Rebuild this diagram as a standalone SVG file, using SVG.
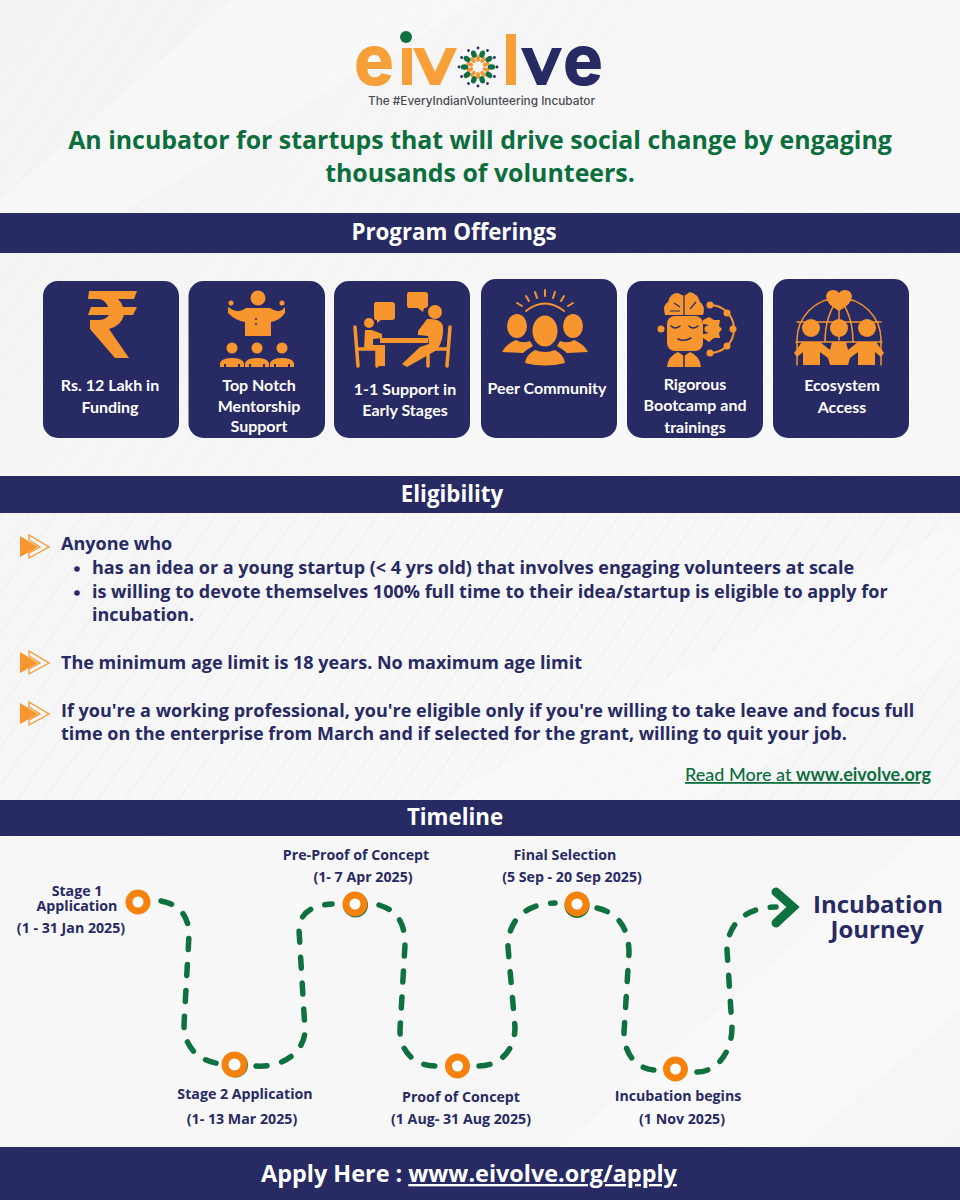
<svg xmlns="http://www.w3.org/2000/svg" xmlns:xlink="http://www.w3.org/1999/xlink" width="960" height="1200" viewBox="0 0 960 1200">
<defs>
<style>
.bar{fill:#272a63}
.hd{font:700 22.300px "Open Sans",sans-serif;fill:#fff;text-anchor:middle}
.card{fill:#272a63}
.ct{font:700 16px Lato,sans-serif;fill:#fff;text-anchor:middle}
.ic{fill:#f7962e}
.il{fill:none;stroke:#f7962e;stroke-linecap:round;stroke-linejoin:round}
.nv{fill:none;stroke:#272a63;stroke-linecap:round}
.b{font:700 18px "Open Sans",sans-serif;fill:#272a63}
.t{font:700 14.200px "Open Sans",sans-serif;fill:#272a63;text-anchor:middle}
.dash{fill:none;stroke:#0f7040;stroke-width:5.500;stroke-linecap:round;stroke-dasharray:11 15}
.ring{fill:#fff;stroke:#f5820d;stroke-width:7}
.logo{font-family:Inter,sans-serif;font-weight:800;font-size:70px}
</style>
<linearGradient id="bg" x1="0" y1="0" x2="1" y2="1"><stop offset="0" stop-color="#f3f3f4"/><stop offset="0.5" stop-color="#f8f8f9"/><stop offset="1" stop-color="#f5f5f6"/></linearGradient>
<pattern id="hatch" width="22" height="22" patternUnits="userSpaceOnUse" patternTransform="rotate(-55)"><path d="M0 11H22" stroke="#e9e9ec" stroke-width="1"/></pattern>
<g id="arrow"><path class="ic" d="M20-11L38 0 20 10Z"/><path d="M29-12L49 0 29 11V6L40 0 29-7Z" fill="none" stroke="#f7962e" stroke-width="1.300"/></g>
<ellipse id="leaf" cx="0" cy="-13.500" rx="2.700" ry="3.800" fill="#0f7040"/>
<ellipse id="pet" cx="0" cy="-8.500" rx="2" ry="3.400" fill="#f7962e"/>
<circle id="dot" cx="0" cy="-19" r="1.400" fill="#272a63"/>
</defs>

<g id="background">
<rect width="960" height="1200" fill="url(#bg)"/>
<rect y="253" width="960" height="223" fill="url(#hatch)" opacity=".45"/>
<rect y="513" width="960" height="287" fill="url(#hatch)" opacity=".7"/>
<rect y="0" width="960" height="213" fill="url(#hatch)" opacity=".3"/>
<path d="M0 200L230 0H480L120 213H0Z" fill="#fff" opacity=".3"/>
<path d="M560 1147L960 800V1010L800 1147Z" fill="#fff" opacity=".35"/>
<path d="M440 800L960 520V660L700 800Z" fill="#fff" opacity=".3"/>
</g>

<g id="logo">
<circle cx="406" cy="37" r="6" fill="#0f7040"/>
<text class="logo" x="354" y="85" fill="#f7a03a" textLength="40" lengthAdjust="spacingAndGlyphs">e</text>
<rect x="402" y="48" width="10" height="37" fill="#f7a03a"/>
<path d="M413 48H424L435 72 446 48H457L440 85H430Z" fill="#f7a03a"/>
<g transform="translate(478 67)">
<use xlink:href="#pet"/><use xlink:href="#pet" transform="rotate(36)"/><use xlink:href="#pet" transform="rotate(72)"/><use xlink:href="#pet" transform="rotate(108)"/><use xlink:href="#pet" transform="rotate(144)"/><use xlink:href="#pet" transform="rotate(180)"/><use xlink:href="#pet" transform="rotate(216)"/><use xlink:href="#pet" transform="rotate(252)"/><use xlink:href="#pet" transform="rotate(288)"/><use xlink:href="#pet" transform="rotate(324)"/>
<use xlink:href="#leaf" transform="rotate(18)"/><use xlink:href="#leaf" transform="rotate(54)"/><use xlink:href="#leaf" transform="rotate(90)"/><use xlink:href="#leaf" transform="rotate(126)"/><use xlink:href="#leaf" transform="rotate(162)"/><use xlink:href="#leaf" transform="rotate(198)"/><use xlink:href="#leaf" transform="rotate(234)"/><use xlink:href="#leaf" transform="rotate(270)"/><use xlink:href="#leaf" transform="rotate(306)"/><use xlink:href="#leaf" transform="rotate(342)"/>
<use xlink:href="#dot"/><use xlink:href="#dot" transform="rotate(30)"/><use xlink:href="#dot" transform="rotate(60)"/><use xlink:href="#dot" transform="rotate(90)"/><use xlink:href="#dot" transform="rotate(120)"/><use xlink:href="#dot" transform="rotate(150)"/><use xlink:href="#dot" transform="rotate(180)"/><use xlink:href="#dot" transform="rotate(210)"/><use xlink:href="#dot" transform="rotate(240)"/><use xlink:href="#dot" transform="rotate(270)"/><use xlink:href="#dot" transform="rotate(300)"/><use xlink:href="#dot" transform="rotate(330)"/>
</g>
<rect x="506" y="34" width="10" height="51" fill="#f7a03a"/>
<path d="M521 48H532L542 72 552 48H562L546 85H537Z" fill="#272a63"/>
<text class="logo" x="563" y="85" fill="#272a63" textLength="40" lengthAdjust="spacingAndGlyphs">e</text>
<text x="368" y="105" font-family="Inter,sans-serif" font-weight="500" font-size="11.500" fill="#4a4a52" textLength="227" lengthAdjust="spacingAndGlyphs">The #EveryIndianVolunteering Incubator</text>
</g>

<g id="headline" font-family="'Open Sans',sans-serif" font-weight="700" font-size="24.900" fill="#0b6e3c" text-anchor="middle">
<text x="480" y="149">An incubator for startups that will drive social change by engaging</text>
<text x="480" y="182">thousands of volunteers.</text>
</g>

<g id="bar-offerings"><rect class="bar" y="213" width="960" height="40"/><text class="hd" x="454" y="240">Program Offerings</text></g>

<g id="card-funding">
<rect class="card" x="43" y="281" width="136" height="157" rx="15"/>
<path class="ic" d="M89 291H137L134 299H118Q122 303 123 307H137L133 315H124Q121 326 109 329L129 358H115L90 329V320H98Q106 320 109 315H88L91 307H108Q105 299 98 299H88Z"/>
<text class="ct" x="110" y="391">Rs. 12 Lakh in</text><text class="ct" x="110" y="413">Funding</text>
</g>

<g id="card-mentorship">
<rect class="card" x="188.500" y="281" width="136.500" height="157" rx="15"/>
<circle class="ic" cx="258" cy="298" r="7.500"/><circle class="ic" cx="231" cy="303" r="2.500"/><circle class="ic" cx="282" cy="303" r="2.500"/>
<path class="ic" d="M228 307L233 310Q240 313 246 308H270Q277 313 282 310L285 307 285 313Q279 321 271 322V336H245V322Q236 321 228 313Z"/>
<circle cx="256" cy="319" r="1" fill="#272a63"/><circle cx="256" cy="324" r="1" fill="#272a63"/>
<circle class="ic" cx="232" cy="348" r="5.500"/><circle class="ic" cx="257" cy="348" r="5.500"/><circle class="ic" cx="282" cy="348" r="5.500"/>
<path class="ic" d="M220 367V363Q222 358 232 358 242 358 244 363V367H240V364H238V367H226V364H224V367ZM245 367V363Q247 358 257 358 267 358 269 363V367H265V364H263V367H251V364H249V367ZM270 367V363Q272 358 282 358 292 358 294 363V367H290V364H288V367H276V364H274V367Z"/>
<text class="ct" x="259" y="391">Top Notch</text><text class="ct" x="259" y="412">Mentorship</text><text class="ct" x="259" y="432">Support</text>
</g>

<g id="card-support">
<rect class="card" x="334" y="281" width="136" height="157" rx="15"/>
<path class="il" stroke-width="3.500" d="M355 327L358 366M358 349H376M377 349V366M450 327L447 366M447 349H429M428 349V366"/>
<circle class="ic" cx="369" cy="323" r="5"/><circle class="ic" cx="435" cy="312" r="7"/>
<path class="ic" d="M365 330H372L382 334V338L373 339V345H385V366H378V350H364Z"/>
<rect class="ic" x="380" y="338" width="48" height="5"/>
<path class="ic" d="M427 319Q441 318 443 326 444 340 437 350L407 367 402 364 420 347 429 344 428 336 418 335 418 331Z"/>
<path class="ic" d="M376 302H392Q395 302 395 305V317Q395 320 392 320H381L377 323 377 320H376Q374 320 374 317V305Q374 302 376 302ZM409 292H425Q428 292 428 295V305Q428 308 425 308H424L423 312 418 308H409Q407 308 407 305V295Q407 292 409 292Z"/>
<text class="ct" x="405" y="395">1-1 Support in</text><text class="ct" x="405" y="416">Early Stages</text>
</g>

<g id="card-peer">
<rect class="card" x="481" y="279" width="136" height="159" rx="15"/>
<path class="il" stroke-width="2" d="M545 290V296M535 292L537 298M526 296L529 301M564 296L561 301M555 292L553 298M517 303L522 306M568 306L573 303M526 311Q545 296 564 311"/>
<ellipse class="ic" cx="517" cy="326" rx="10" ry="12"/><ellipse class="ic" cx="545" cy="331" rx="12.500" ry="15.500"/><ellipse class="ic" cx="573" cy="326" rx="10" ry="12"/>
<path class="ic" d="M502 352Q506 344 516 340 522 344 530 341L533 346Q526 350 523 353Z M588 352Q584 344 574 340 568 344 560 341L557 346Q564 350 567 353Z M525 363Q526 355 535 350 545 354 555 350 564 355 565 363 545 368 525 363Z"/>
<text class="ct" x="547" y="394">Peer Community</text>
</g>

<g id="card-bootcamp">
<rect class="card" x="627" y="281" width="136" height="157" rx="15"/>
<path class="ic" d="M665 315Q662 305 668 302 670 293 678 293L684 296 690 292Q698 294 700 302 706 306 703 315Z"/>
<path d="M684 296V315M674 303L680 307M696 302L690 309M670 311H680" stroke="#272a63" stroke-width="1.200" fill="none"/>
<rect class="ic" x="667" y="316" width="36" height="35" rx="8"/>
<circle class="ic" cx="661" cy="329" r="3.500"/><circle class="ic" cx="708" cy="329" r="3.500"/>
<path class="nv" stroke-width="1.500" d="M671 326Q675 330 680 326M689 326Q693 330 698 326M678 339Q684 342 691 338"/>
<path class="ic" d="M667 367Q668 356 678 352L684 356 690 352Q700 356 701 367Z"/>
<path d="M684 355V367" stroke="#272a63" stroke-width="1.500"/>
<path class="il" stroke-width="2" d="M710 305A24 24 0 0 1 710 353"/>
<path class="ic" d="M703 320L709 317 714 320 720 320 719 326 722 329 719 333 720 338 714 338 709 342 703 338V334Q710 334 710 329 710 324 703 324Z"/>
<circle class="ic" cx="710" cy="305" r="3.500"/><circle class="ic" cx="727" cy="313" r="3.500"/><circle class="ic" cx="733" cy="329" r="3.500"/><circle class="ic" cx="727" cy="346" r="3.500"/><circle class="ic" cx="710" cy="353" r="3.500"/>
<text class="ct" x="695" y="390">Rigorous</text><text class="ct" x="695" y="411">Bootcamp and</text><text class="ct" x="695" y="433">trainings</text>
</g>

<g id="card-ecosystem">
<rect class="card" x="773" y="279" width="136" height="159" rx="15"/>
<path class="il" stroke-width="1.500" d="M797 365V340A42 42 0 0 1 881 340V365M797 322H881M796 342H882M839 340V300M825 342Q825 315 839 298M853 342Q853 315 839 298"/>
<path class="ic" d="M839 311Q826 304 826 296 827 290 833 290 837 290 839 293 841 290 845 290 851 290 852 296 852 304 839 311Z"/>
<circle class="ic" cx="811" cy="328" r="9"/><circle class="ic" cx="839" cy="328" r="9"/><circle class="ic" cx="867" cy="328" r="9"/>
<path class="ic" d="M794 353L802 342H820L830 350 832 342H846L848 350 858 342H876L884 353 881 357 875 352V365H858V352L850 358 848 365H830L828 358 820 352V365H803V352L797 357Z"/>
<path d="M820 365V354L826 359V365ZM858 365V354L852 359V365Z" fill="#272a63"/>
<text class="ct" x="842" y="391">Ecosystem</text><text class="ct" x="842" y="413">Access</text>
</g>

<g id="bar-eligibility"><rect class="bar" y="476" width="960" height="37"/><text class="hd" x="452" y="502">Eligibility</text></g>

<g id="eligibility">
<use xlink:href="#arrow" y="547"/><use xlink:href="#arrow" y="663"/><use xlink:href="#arrow" y="714"/>
<text class="b" x="61" y="550">Anyone who</text>
<circle cx="77" cy="569" r="2.800" fill="#272a63"/><circle cx="77" cy="593" r="2.800" fill="#272a63"/>
<text class="b" x="92" y="574">has an idea or a young startup (&lt; 4 yrs old) that involves engaging volunteers at scale</text>
<text class="b" x="92" y="598">is willing to devote themselves 100% full time to their idea/startup is eligible to apply for</text>
<text class="b" x="92" y="621">incubation.</text>
<text class="b" x="61" y="669">The minimum age limit is 18 years. No maximum age limit</text>
<text class="b" x="61" y="717">If you're a working professional, you're eligible only if you're willing to take leave and focus full</text>
<text class="b" x="61" y="740">time on the enterprise from March and if selected for the grant, willing to quit your job.</text>
<text x="685" y="781" font-family="Lato,sans-serif" font-size="18" font-weight="500" fill="#0b6e3c" text-decoration="underline">Read More at <tspan font-weight="700">www.eivolve.org</tspan></text>
</g>

<g id="bar-timeline"><rect class="bar" y="800" width="960" height="36"/><text class="hd" x="455" y="825">Timeline</text></g>

<g id="connectors">
<path class="dash" d="M161 901C178 904 189 915 189 935L184 1025C184 1048 200 1062 222 1064"/>
<path class="dash" d="M256 1066C285 1068 305 1050 305 1030L299 930C299 915 310 905 332 904"/>
<path class="dash" d="M379 905C395 910 405 920 405 945L400 1030C400 1052 415 1066 436 1066"/>
<path class="dash" d="M479 1066C500 1066 515 1050 515 1027L508 947C508 920 525 904 555 903"/>
<path class="dash" d="M597 908C615 912 629 925 629 953L624 1032C624 1055 637 1069 655 1070"/>
<path class="dash" d="M697 1072C717 1072 732 1052 732 1027L727 950C727 925 745 907 776 907"/>
<path d="M776 892L793 907 776 923" fill="none" stroke="#0f7040" stroke-width="9" stroke-linecap="round" stroke-linejoin="miter"/>
</g>

<g id="node-stage1"><circle class="ring" cx="138" cy="902" r="9"/>
<text class="t" x="77" y="896">Stage 1</text><text class="t" x="77" y="911">Application</text><text class="t" x="71" y="933">(1 - 31 Jan 2025)</text></g>
<g id="node-stage2"><circle cx="235.500" cy="1065" r="12.500" fill="#0f7040"/><circle class="ring" cx="234.500" cy="1064.500" r="9.500"/>
<text class="t" x="245" y="1099">Stage 2 Application</text><text class="t" x="242" y="1124">(1- 13 Mar 2025)</text></g>
<g id="node-preproof"><circle cx="355.500" cy="905" r="12.500" fill="#0f7040"/><circle class="ring" cx="355" cy="904" r="9"/>
<text class="t" x="356" y="860">Pre-Proof of Concept</text><text class="t" x="363" y="882">(1- 7 Apr 2025)</text></g>
<g id="node-proof"><circle class="ring" cx="457.500" cy="1066" r="9"/>
<text class="t" x="461" y="1102">Proof of Concept</text><text class="t" x="461" y="1124">(1 Aug- 31 Aug 2025)</text></g>
<g id="node-final"><circle cx="577" cy="905.500" r="12.500" fill="#0f7040"/><circle class="ring" cx="577" cy="904" r="9"/>
<text class="t" x="565" y="860">Final Selection</text><text class="t" x="572" y="882">(5 Sep - 20 Sep 2025)</text></g>
<g id="node-begins"><circle class="ring" cx="675.500" cy="1069" r="9"/>
<text class="t" x="678" y="1101">Incubation begins</text><text class="t" x="682" y="1124">(1 Nov 2025)</text></g>
<g id="node-journey" font-family="'Open Sans',sans-serif" font-weight="700" font-size="24" fill="#272a63" text-anchor="middle"><text x="878" y="913">Incubation</text><text x="877" y="938">Journey</text></g>

<g id="bar-apply"><rect class="bar" y="1147" width="960" height="53"/><text class="hd" x="469" y="1182" style="font-size:23.400px">Apply Here : <tspan text-decoration="underline">www.eivolve.org/apply</tspan></text></g>
</svg>
